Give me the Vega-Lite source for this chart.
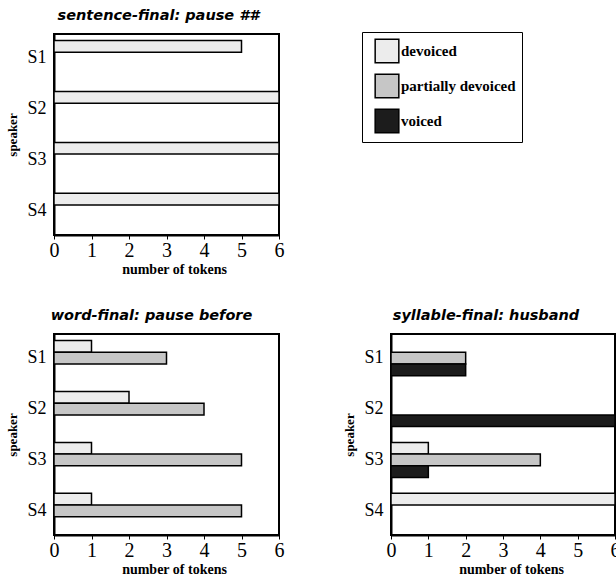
{
  "$schema": "https://vega.github.io/schema/vega-lite/v6.json",
  "background": "white",
  "padding": {"left": 5, "top": 6, "right": 0, "bottom": 0},
  "bounds": "flush",
  "columns": 2,
  "spacing": {"row": 99, "column": 112},
  "datasets": {
    "tokens": [
      {"panel": "sentence", "speaker": "S1", "category": "devoiced", "count": 5},
      {"panel": "sentence", "speaker": "S2", "category": "devoiced", "count": 6},
      {"panel": "sentence", "speaker": "S3", "category": "devoiced", "count": 6},
      {"panel": "sentence", "speaker": "S4", "category": "devoiced", "count": 6},
      {"panel": "word", "speaker": "S1", "category": "devoiced", "count": 1},
      {"panel": "word", "speaker": "S1", "category": "partially devoiced", "count": 3},
      {"panel": "word", "speaker": "S2", "category": "devoiced", "count": 2},
      {"panel": "word", "speaker": "S2", "category": "partially devoiced", "count": 4},
      {"panel": "word", "speaker": "S3", "category": "devoiced", "count": 1},
      {"panel": "word", "speaker": "S3", "category": "partially devoiced", "count": 5},
      {"panel": "word", "speaker": "S4", "category": "devoiced", "count": 1},
      {"panel": "word", "speaker": "S4", "category": "partially devoiced", "count": 5},
      {"panel": "syllable", "speaker": "S1", "category": "partially devoiced", "count": 2},
      {"panel": "syllable", "speaker": "S1", "category": "voiced", "count": 2},
      {"panel": "syllable", "speaker": "S2", "category": "voiced", "count": 6},
      {"panel": "syllable", "speaker": "S3", "category": "devoiced", "count": 1},
      {"panel": "syllable", "speaker": "S3", "category": "partially devoiced", "count": 4},
      {"panel": "syllable", "speaker": "S3", "category": "voiced", "count": 1},
      {"panel": "syllable", "speaker": "S4", "category": "devoiced", "count": 6}
    ],
    "categories": [
      {"category": "devoiced"},
      {"category": "partially devoiced"},
      {"category": "voiced"}
    ]
  },
  "concat": [
    {
      "width": 225, "height": 201,
      "title": {"text": "sentence-final:  pause ##", "dx": -8},
      "data": {"name": "tokens"},
      "transform": [{"filter": "datum.panel == 'sentence'"}],
      "mark": {"type": "bar", "stroke": "black", "strokeWidth": 1.5},
      "encoding": {
        "y": {"field": "speaker", "type": "nominal", "scale": {"domain": ["S1", "S2", "S3", "S4"], "paddingInner": 0.31, "paddingOuter": 0.13}, "axis": {"title": "speaker"}},
        "yOffset": {"field": "category", "type": "nominal", "scale": {"domain": ["devoiced", "partially devoiced", "voiced"]}},
        "x": {"field": "count", "type": "quantitative", "scale": {"domain": [0, 6], "nice": false}, "axis": {"values": [0, 1, 2, 3, 4, 5, 6], "title": "number of tokens"}},
        "color": {"field": "category", "type": "nominal", "scale": {"domain": ["devoiced", "partially devoiced", "voiced"], "range": ["#ececec", "#c6c6c6", "#1c1c1c"]}, "legend": null}
      }
    },
    {
      "width": 224, "height": 201,
      "view": {"stroke": null},
      "data": {"name": "categories"},
      "mark": {"type": "square", "opacity": 0},
      "encoding": {
        "color": {"field": "category", "type": "nominal", "scale": {"domain": ["devoiced", "partially devoiced", "voiced"], "range": ["#ececec", "#c6c6c6", "#1c1c1c"]},
          "legend": {"orient": "none", "legendX": -29, "legendY": -2, "title": null, "symbolType": "square", "symbolSize": 560, "symbolOpacity": 1, "symbolStrokeColor": "black", "symbolStrokeWidth": 1.5, "labelFont": "Liberation Serif", "labelFontSize": 15, "labelFontWeight": "bold", "labelColor": "black", "labelOffset": 1, "rowPadding": 5, "padding": 6, "symbolOffset": 6, "strokeColor": "black"}}
      }
    },
    {
      "width": 225, "height": 201,
      "title": {"text": "word-final:  pause before", "dx": -15},
      "data": {"name": "tokens"},
      "transform": [{"filter": "datum.panel == 'word'"}],
      "mark": {"type": "bar", "stroke": "black", "strokeWidth": 1.5},
      "encoding": {
        "y": {"field": "speaker", "type": "nominal", "scale": {"domain": ["S1", "S2", "S3", "S4"], "paddingInner": 0.31, "paddingOuter": 0.13}, "axis": {"title": "speaker"}},
        "yOffset": {"field": "category", "type": "nominal", "scale": {"domain": ["devoiced", "partially devoiced", "voiced"]}},
        "x": {"field": "count", "type": "quantitative", "scale": {"domain": [0, 6], "nice": false}, "axis": {"values": [0, 1, 2, 3, 4, 5, 6], "title": "number of tokens"}},
        "color": {"field": "category", "type": "nominal", "scale": {"domain": ["devoiced", "partially devoiced", "voiced"], "range": ["#ececec", "#c6c6c6", "#1c1c1c"]}, "legend": null}
      }
    },
    {
      "width": 224, "height": 201,
      "title": {"text": "syllable-final:  husband", "dx": -17},
      "data": {"name": "tokens"},
      "transform": [{"filter": "datum.panel == 'syllable'"}],
      "mark": {"type": "bar", "stroke": "black", "strokeWidth": 1.5},
      "encoding": {
        "y": {"field": "speaker", "type": "nominal", "scale": {"domain": ["S1", "S2", "S3", "S4"], "paddingInner": 0.31, "paddingOuter": 0.13}, "axis": {"title": "speaker"}},
        "yOffset": {"field": "category", "type": "nominal", "scale": {"domain": ["devoiced", "partially devoiced", "voiced"]}},
        "x": {"field": "count", "type": "quantitative", "scale": {"domain": [0, 6], "nice": false}, "axis": {"values": [0, 1, 2, 3, 4, 5, 6], "title": "number of tokens"}},
        "color": {"field": "category", "type": "nominal", "scale": {"domain": ["devoiced", "partially devoiced", "voiced"], "range": ["#ececec", "#c6c6c6", "#1c1c1c"]}, "legend": null}
      }
    }
  ],
  "resolve": {"scale": {"color": "independent", "x": "independent", "y": "independent"}},
  "config": {
    "view": {"stroke": "black", "strokeWidth": 2},
    "axis": {"labelFont": "Liberation Serif", "labelColor": "black", "titleFont": "Liberation Serif", "titleFontWeight": "bold", "titleColor": "black", "grid": false, "domainColor": "black", "tickColor": "black", "domainWidth": 2},
    "axisX": {"labelFontSize": 20, "titleFontSize": 14, "tickSize": 4, "labelPadding": 1, "labelFlush": false, "titleX": 120, "titleY": 38, "titleBaseline": "alphabetic"},
    "axisY": {"labelFontSize": 18, "titleFontSize": 13, "ticks": false, "labelPadding": 8, "titleX": -38, "titleBaseline": "alphabetic"},
    "title": {"font": "DejaVu Sans", "fontSize": 14.5, "fontStyle": "italic", "fontWeight": "bold", "color": "black", "offset": 11}
  }
}
